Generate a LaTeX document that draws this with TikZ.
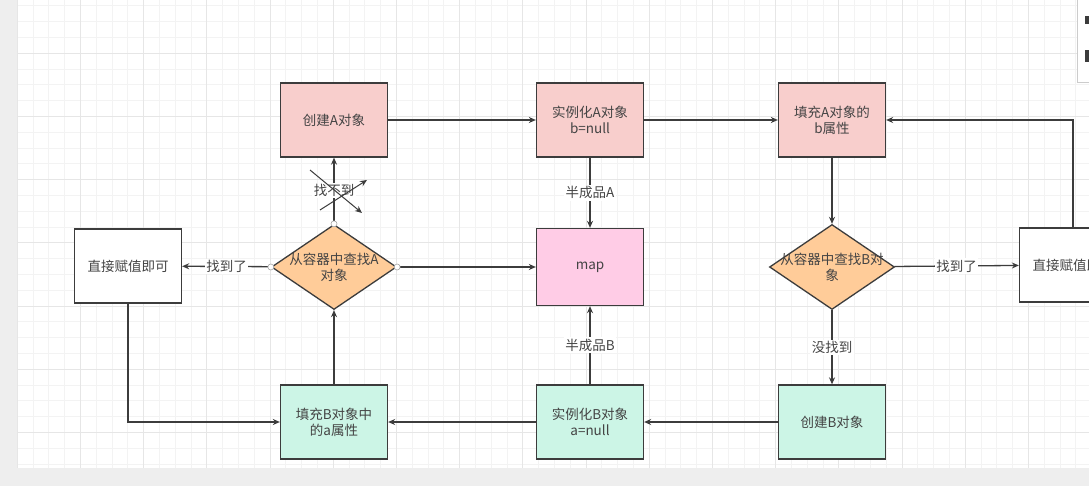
\documentclass[tikz,border=0pt]{standalone}
\usepackage{fontspec}
\setmainfont{Noto Sans CJK SC}
\usetikzlibrary{arrows.meta,shapes.geometric,positioning}

\definecolor{linegray}{HTML}{3C3C3C}
\definecolor{textgray}{HTML}{444444}
\definecolor{redfill}{HTML}{F8CECC}
\definecolor{mapfill}{HTML}{FFCCE6}
\definecolor{tealfill}{HTML}{CCF5E6}
\definecolor{orangefill}{HTML}{FFCC99}
\definecolor{gridminor}{HTML}{F3F3F3}
\definecolor{gridmajor}{HTML}{E6E6E6}
\definecolor{edgegray}{HTML}{EEEEEE}

\tikzset{
    box/.style={draw=linegray, line width=1.3pt, minimum width=107pt, minimum height=74pt,
        align=center, text=textgray, font=\fontsize{13.5}{16}\selectfont},
    decide/.style={diamond, draw=linegray, line width=1.3pt, fill=orangefill, inner sep=0pt,
        minimum width=125pt, minimum height=85pt},
    dtext/.style={align=center, inner sep=0pt, text=textgray, font=\fontsize{13.5}{16}\selectfont},
    flow/.style={draw=linegray, line width=1.3pt, -{Stealth[length=7pt,width=6pt]}},
    lbl/.style={fill=white, inner sep=1.5pt, text=textgray, font=\fontsize{13.5}{16}\selectfont},
    handle/.style={circle, draw=gray!70, fill=white, line width=0.6pt, inner sep=0pt, minimum size=6pt}
}

\begin{document}
\begin{tikzpicture}[x=1pt, y=-1pt]
    \clip (0,0) rectangle (1089,486);
    \useasboundingbox (0,0) rectangle (1089,486);

    % Background and grid
    \fill[edgegray] (0,0) rectangle (1089,486);
    \fill[white] (17,0) rectangle (1089,468);
    \foreach \i in {0,...,68} {
        \draw[gridminor, line width=0.5pt] ({17+15.8*\i},0) -- ({17+15.8*\i},468);
    }
    \foreach \j in {0,...,29} {
        \draw[gridminor, line width=0.5pt] (17,{5.6+15.8*\j}) -- (1089,{5.6+15.8*\j});
    }
    \foreach \i in {0,...,17} {
        \draw[gridmajor, line width=0.6pt] ({17+63.2*\i},0) -- ({17+63.2*\i},468);
    }
    \foreach \j in {0,...,7} {
        \draw[gridmajor, line width=0.6pt] (17,{-10.2+63.2*\j}) -- (1089,{-10.2+63.2*\j});
    }

    % Panel in the top right corner
    \draw[fill=white, draw=gray!40] (1077,-5) rectangle (1100,82);
    \fill[linegray] (1085,16) rectangle (1089,24);
    \fill[linegray] (1085,50) rectangle (1089,62);

    % Top row: object A
    \node[box, fill=redfill] (createA) at (334,120) {创建A对象};
    \node[box, fill=redfill] (instA) at (590,120) {实例化A对象\\b=null};
    \node[box, fill=redfill] (fillA) at (832,120) {填充A对象的\\b属性};

    % Middle row
    \node[box, fill=white] (directL) at (128,266) {直接赋值即可};
    \node[decide] (findA) at (334,267) {};
    \node[dtext] (findAtext) at (findA) {从容器中查找A\\对象};
    \node[box, fill=mapfill, minimum height=77pt] (map) at (590,267) {map};
    \node[decide] (findB) at (832,267) {};
    \node[dtext] (findBtext) at (findB) {从容器中查找B对\\象};
    \node[box, fill=white] (directR) at (1073,265) {直接赋值即可};

    % Bottom row: object B
    \node[box, fill=tealfill] (fillB) at (334,422) {填充B对象中\\的a属性};
    \node[box, fill=tealfill] (instB) at (590,422) {实例化B对象\\a=null};
    \node[box, fill=tealfill] (createB) at (832,422) {创建B对象};

    % Connectors
    \draw[flow] (createA) -- (instA);
    \draw[flow] (instA) -- (fillA);
    \draw[flow] (instA) -- node[lbl] {半成品A} (map);
    \draw[flow] (fillA) -- (findB);
    \draw[flow] (findB) -- node[lbl] {找到了} (directR);
    \draw[flow] (directR.north) |- (fillA.east);
    \draw[flow] (findB) -- node[lbl] {没找到} (createB);
    \draw[flow] (createB) -- (instB);
    \draw[flow] (instB) -- (fillB);
    \draw[flow] (instB) -- node[lbl] {半成品B} (map);
    \draw[flow] (fillB) -- (findA);
    \draw[flow] (findA) -- node[lbl] {找不到} (createA);
    \draw[flow] (findA) -- node[lbl] {找到了} (directL);
    \draw[flow] (findA) -- (map);
    \draw[flow] (directL.south) |- (fillB.west);

    % Crossing out the path that is not taken
    \coordinate (crossA) at (310,170);
    \coordinate (crossB) at (362,213);
    \coordinate (crossC) at (320,210);
    \coordinate (crossD) at (367,180);
    \draw[flow, line width=1pt] (crossA) -- (crossB);
    \draw[flow, line width=1pt] (crossC) -- (crossD);

    % Selection handles on the left decision
    \node[handle] (hTop) at (findA.north) {};
    \node[handle] (hLeft) at (findA.west) {};
    \node[handle] (hRight) at (findA.east) {};
\end{tikzpicture}
\end{document}
